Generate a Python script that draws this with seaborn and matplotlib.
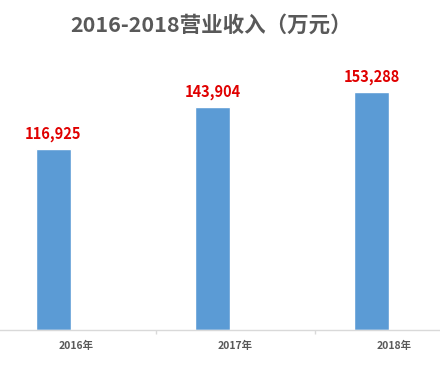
import numpy as np
import pandas as pd
import matplotlib
matplotlib.use("Agg")
import matplotlib.pyplot as plt
import seaborn as sns

# data
years = ["2016年", "2017年", "2018年"]
revenue = [116925, 143904, 153288]
series = ["营业收入", "空"]

sns.set_theme(style="white")
plt.rcParams['font.family'] = ['Noto Sans CJK SC', 'DejaVu Sans']

df = pd.DataFrame({
    "year": years + years,
    "value": revenue + [np.nan] * len(years),
    "series": [series[0]] * len(years) + [series[1]] * len(years),
})

fig = plt.figure(figsize=(4.4, 3.67), dpi=100)
ax = fig.add_axes([0, 37 / 367, 1, 279 / 367])

sns.barplot(data=df, x="year", y="value", hue="series", hue_order=series,
            palette={series[0]: "#5B9BD5", series[1]: "#ED7D31"},
            width=0.58, gap=0.24, legend=False, ax=ax, errorbar=None,
            saturation=1)

ax.bar_label(ax.containers[0], labels=[f"{v:,}" for v in revenue],
             padding=5, color="#E00000", fontsize=10.5, fontweight="bold")

ax.set_xlim(-0.481, 2.286)
ax.set_ylim(0, 180000)
ax.set_xlabel("")
ax.set_ylabel("")
ax.set_yticks([])
ax.set_xticks(range(len(years)))
ax.set_xticklabels(years, fontsize=7.5, fontweight="bold", color="#595959")
ax.set_xticks([0.5, 1.5], minor=True)
ax.tick_params(axis="x", which="major", length=0, pad=8)
ax.tick_params(axis="x", which="minor", length=3, color="#D9D9D9", bottom=True)

for side in ["top", "right", "left"]:
    ax.spines[side].set_visible(False)
ax.spines["bottom"].set_color("#D9D9D9")
ax.spines["bottom"].set_linewidth(1)

fig.text(0.48, 1 - 25 / 367, "2016-2018营业收入（万元）", ha="center", va="center",
         fontsize=15.5, fontweight="bold", color="#595959")

fig.savefig("out.png", dpi=100)
